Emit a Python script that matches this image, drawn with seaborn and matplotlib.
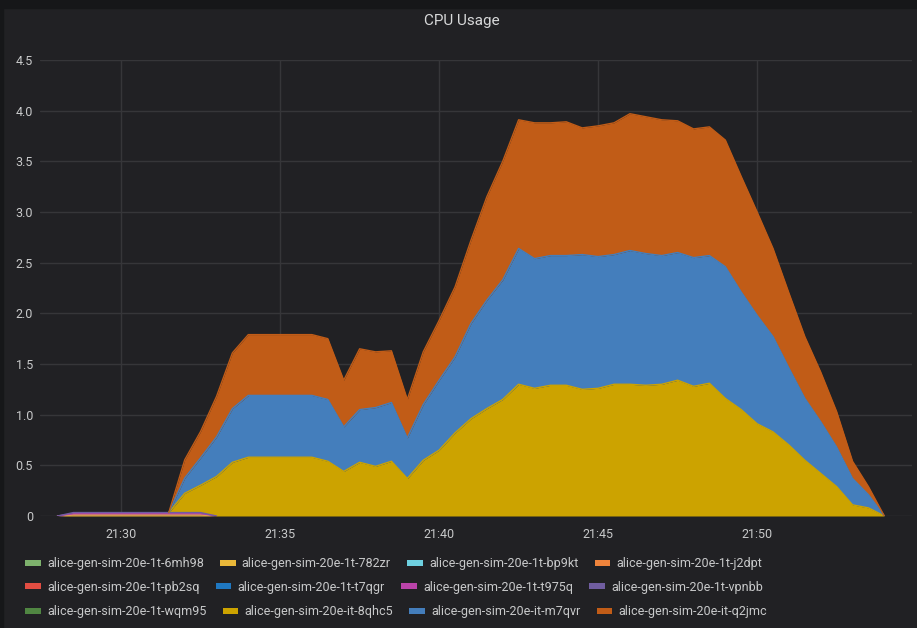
import numpy as np
import matplotlib
matplotlib.use("Agg")
import matplotlib.pyplot as plt
from matplotlib.patches import Patch, Rectangle
import seaborn as sns

# time axis: minutes after 21:00, one sample every 30 s (21:28 .. 21:54)
minutes = np.arange(28.0, 54.5, 0.5)
N = len(minutes)

series_names = [
    "alice-gen-sim-20e-1t-6mh98", "alice-gen-sim-20e-1t-782zr",
    "alice-gen-sim-20e-1t-bp9kt", "alice-gen-sim-20e-1t-j2dpt",
    "alice-gen-sim-20e-1t-pb2sq", "alice-gen-sim-20e-1t-t7qgr",
    "alice-gen-sim-20e-1t-t975q", "alice-gen-sim-20e-1t-vpnbb",
    "alice-gen-sim-20e-1t-wqm95", "alice-gen-sim-20e-it-8qhc5",
    "alice-gen-sim-20e-it-m7qvr", "alice-gen-sim-20e-it-q2jmc",
]
series_colors = [
    "#7EB26D", "#EAB839", "#6ED0E0", "#EF843C",
    "#E24D42", "#1F78C1", "#BA43A9", "#705DA0",
    "#508642", "#CCA300", "#447EBC", "#C15C17",
]

cpu_6mh98 = [0.0] * N
cpu_782zr = [0.0, 0.011, 0.011, 0.011, 0.011, 0.011, 0.011, 0.011, 0.011, 0.011] + [0.0] * 43
cpu_bp9kt = [0.0] * N
cpu_j2dpt = [0.0] * N
cpu_pb2sq = [0.0] * N
cpu_t7qgr = [0.0] * N
cpu_t975q = [0.0, 0.011, 0.011, 0.011, 0.011, 0.011, 0.011, 0.011, 0.011, 0.011] + [0.0] * 43
cpu_vpnbb = [0.0, 0.012, 0.012, 0.012, 0.012, 0.012, 0.012, 0.012, 0.012, 0.012] + [0.0] * 43
cpu_wqm95 = [0.0] * N
cpu_8qhc5 = [0, 0, 0, 0, 0, 0, 0, 0,
             0.19, 0.27, 0.39, 0.53, 0.58, 0.58, 0.58, 0.58, 0.58, 0.54,
             0.44, 0.53, 0.49, 0.54, 0.37, 0.55, 0.65, 0.82, 0.96, 1.06,
             1.15, 1.30, 1.26, 1.29, 1.29, 1.25, 1.26, 1.30, 1.30, 1.29,
             1.30, 1.34, 1.28, 1.31, 1.16, 1.05, 0.91, 0.83, 0.70, 0.55,
             0.42, 0.29, 0.11, 0.08, 0]
cpu_m7qvr = [0, 0, 0, 0, 0, 0, 0, 0,
             0.15, 0.27, 0.39, 0.53, 0.61, 0.61, 0.61, 0.61, 0.61, 0.61,
             0.44, 0.52, 0.58, 0.58, 0.40, 0.55, 0.69, 0.75, 0.94, 1.07,
             1.18, 1.34, 1.28, 1.28, 1.28, 1.33, 1.30, 1.28, 1.32, 1.30,
             1.27, 1.26, 1.27, 1.26, 1.30, 1.16, 1.07, 0.94, 0.76, 0.61,
             0.51, 0.39, 0.26, 0.13, 0]
cpu_q2jmc = [0, 0, 0, 0, 0, 0, 0, 0,
             0.18, 0.26, 0.40, 0.55, 0.60, 0.60, 0.60, 0.60, 0.60, 0.60,
             0.46, 0.60, 0.55, 0.51, 0.38, 0.52, 0.59, 0.69, 0.82, 1.02,
             1.17, 1.27, 1.34, 1.31, 1.32, 1.25, 1.29, 1.30, 1.35, 1.35,
             1.34, 1.30, 1.27, 1.27, 1.25, 1.14, 1.02, 0.87, 0.74, 0.61,
             0.49, 0.35, 0.17, 0.08, 0]

all_series = [cpu_6mh98, cpu_782zr, cpu_bp9kt, cpu_j2dpt, cpu_pb2sq, cpu_t7qgr,
              cpu_t975q, cpu_vpnbb, cpu_wqm95, cpu_8qhc5, cpu_m7qvr, cpu_q2jmc]

x_ticks = [30, 35, 40, 45, 50]
x_tick_labels = ["21:30", "21:35", "21:40", "21:45", "21:50"]
y_ticks = [0, 0.5, 1.0, 1.5, 2.0, 2.5, 3.0, 3.5, 4.0, 4.5]
y_tick_labels = ["0", "0.5", "1.0", "1.5", "2.0", "2.5", "3.0", "3.5", "4.0", "4.5"]

BG = "#212124"
TEXT = "#c8c9ca"
GRID = "#363639"

sns.set_theme(style="dark", rc={"axes.facecolor": BG, "figure.facecolor": BG})
plt.rcParams["font.family"] = ["Roboto", "DejaVu Sans"]

W, H = 917, 628
fig = plt.figure(figsize=(W / 100, H / 100), dpi=100)
ax = fig.add_axes([40 / W, 1 - 516 / H, 872 / W, 456 / H])

# stacked areas (grafana stack order = legend order)
lower = np.zeros(N)
for vals, color in zip(all_series, series_colors):
    v = np.array(vals, dtype=float)
    upper = lower + v
    ax.fill_between(minutes, lower, upper, color=color, lw=0, zorder=2)
    # outline only where the series actually has data (and its edges)
    active = v > 0
    active = active | np.roll(active, 1) | np.roll(active, -1)
    if v.any():
        line_y = np.where(active, upper, np.nan)
        sns.lineplot(x=minutes, y=line_y, color=color, lw=1, estimator=None,
                     ax=ax, zorder=3)
    lower = upper

ax.set_xlim(27.45, 54.87)
ax.set_ylim(0, 4.5)
ax.set_xticks(x_ticks)
ax.set_xticklabels(x_tick_labels)
ax.set_yticks(y_ticks)
ax.set_yticklabels(y_tick_labels)
ax.tick_params(axis="both", length=0, colors=TEXT, labelsize=9)
ax.tick_params(axis="y", pad=5)
ax.tick_params(axis="x", pad=9)
ax.grid(True, color=GRID, lw=1, zorder=0)
ax.set_axisbelow(True)
for s in ax.spines.values():
    s.set_visible(False)
ax.set_xlabel("")
ax.set_ylabel("")

# panel frame strips
fig.patches.append(Rectangle((0, 1 - 8 / H), 1, 8 / H, transform=fig.transFigure,
                             color="#161719", zorder=0))
fig.patches.append(Rectangle((0, 0), 3 / W, 1, transform=fig.transFigure,
                             color="#161719", zorder=0))

fig.text(462 / W, 1 - 21 / H, "CPU Usage", color="#d8d9da", fontsize=11,
         ha="center", va="center")

# legend: three rows of four entries
rows_y = [564, 587, 612]
for r, ry in enumerate(rows_y):
    idx = range(r * 4, r * 4 + 4)
    handles = [Patch(facecolor=series_colors[i], edgecolor="none") for i in idx]
    labels = [series_names[i] for i in idx]
    leg = fig.legend(handles, labels, ncol=4, loc="center left",
                     bbox_to_anchor=(25 / W, 1 - ry / H), frameon=False,
                     fontsize=9, handlelength=1.25, handleheight=0.32,
                     handletextpad=0.5, columnspacing=1.3, borderpad=0,
                     borderaxespad=0)
    for t in leg.get_texts():
        t.set_color(TEXT)

fig.savefig("out.png", dpi=100, facecolor=BG)
